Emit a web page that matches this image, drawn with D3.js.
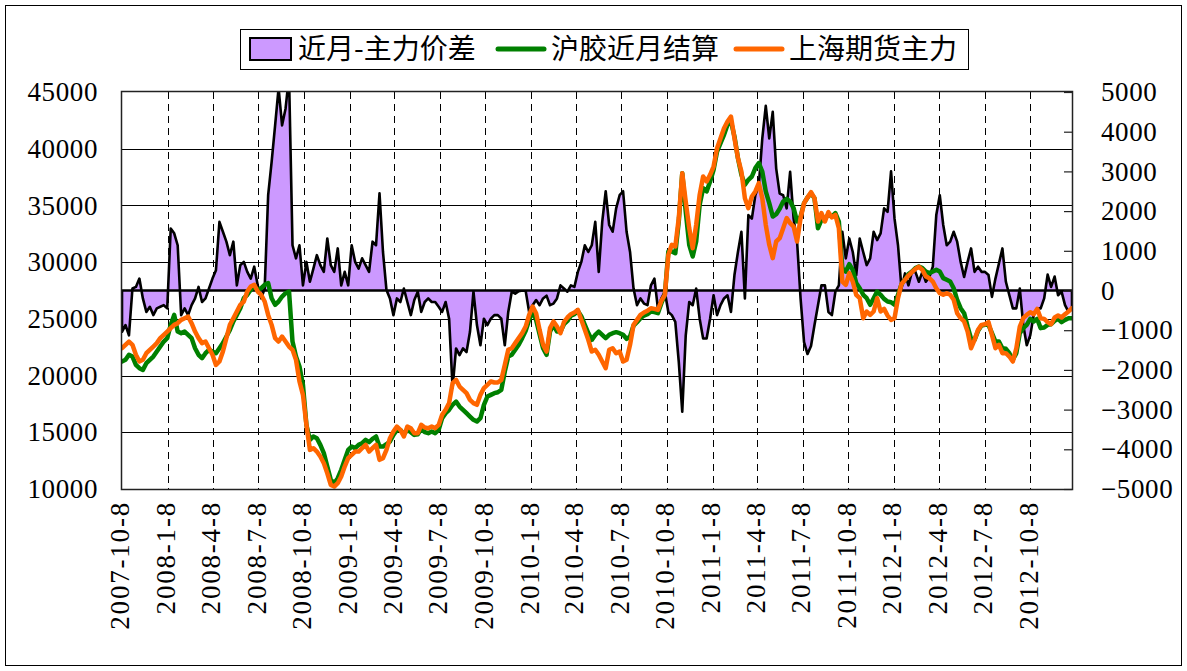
<!DOCTYPE html>
<html><head><meta charset="utf-8">
<script src="https://cdn.jsdelivr.net/npm/d3@7"></script>
<style>
html,body{margin:0;padding:0;background:#fff;}
svg{display:block;}
</style></head><body>
<svg id="chart" width="1187" height="671"></svg>
<script>
// ---------------- data ----------------
const startDate = "2007-10-08";   // first weekly observation
const stepDays = 7;               // one value per week
const dateTicks = ["2007-10-8","2008-1-8","2008-4-8","2008-7-8","2008-10-8","2009-1-8","2009-4-8","2009-7-8","2009-10-8","2010-1-8","2010-4-8","2010-7-8","2010-10-8","2011-1-8","2011-4-8","2011-7-8","2011-10-8","2012-1-8","2012-4-8","2012-7-8","2012-10-8"];
const endDate = "2012-12-31";
const leftTicks = [10000,15000,20000,25000,30000,35000,40000,45000];
const rightTicks = [-5000,-4000,-3000,-2000,-1000,0,1000,2000,3000,4000,5000];
const seriesNames = ["近月-主力价差","沪胶近月结算","上海期货主力"];

// 近月-主力价差 (right axis)
const spread = [
-1040,-870,-1130,50,90,300,-200,-540,-410,-620,
-450,-410,-370,-450,1560,1440,1140,-620,-450,-620,
-370,-200,90,-290,-200,50,300,510,1730,1480,
1230,890,1230,130,640,720,470,300,600,130,
-200,50,2400,3240,4160,5100,4160,4580,5400,1140,
810,1140,130,720,220,550,890,640,470,1310,
640,470,1060,130,470,130,1140,720,550,810,
640,470,1230,1140,2450,970,10,-200,-620,-200,
-290,50,-290,-620,-240,-30,-540,-290,-200,-290,
-290,-410,-540,-290,-710,-2450,-1460,-1630,-1460,-1550,
-1040,-30,-870,-1380,-710,-870,-710,-620,-620,-710,
-1380,-540,-30,-80,-20,0,-10,-540,-370,-240,
-370,-200,-130,-370,-330,-200,130,50,-30,130,
90,470,720,1140,970,1140,1730,470,1730,2500,
1650,1480,2070,2400,2500,1480,970,50,-370,-200,
-330,-370,130,300,-450,-200,-30,-540,-620,-790,
-1800,-3050,-1130,-290,-370,50,-710,-1210,-1210,-710,
-120,-620,-370,-200,-120,-540,390,970,1480,-200,
1900,1810,2400,2650,3830,4650,3830,4500,3070,2440,
2400,2070,2990,1810,1230,-200,-1300,-1600,-1400,-870,
-370,130,130,-540,-620,-30,130,1480,810,1310,
970,390,1310,970,640,810,1480,1270,1440,2070,
1980,3000,1810,1140,50,430,130,470,470,220,
470,220,340,600,1900,2400,1650,1140,1230,1480,
1230,720,340,720,1060,470,600,470,470,390,
-160,300,680,1060,220,-120,-450,-450,50,-870,
-1380,-1130,-620,-450,-450,-200,400,90,350,-120,
-30,-370,-540,-450];

// 沪胶近月结算 (left axis)
const nearMonth = [
21240,21390,21830,21680,20940,20650,20500,21090,21390,21680,
22120,22560,23000,23300,24470,25350,23880,23740,23880,23590,
23300,22410,21830,21530,21970,22270,22120,21970,22410,22860,
23440,24030,24770,25350,25940,26820,27120,27560,27850,27560,
27700,28000,28150,26820,26240,26530,26970,27260,27410,23000,
21680,20800,19180,15650,14330,14630,14480,13890,13160,11980,
10810,10510,10950,11690,12570,13450,13740,13600,13890,14040,
14330,14130,14420,14630,13740,13740,13950,14190,14770,15210,
15210,14830,15210,15010,14770,14830,15300,15010,14920,15070,
14920,15210,16240,16680,16980,17420,17710,17270,16980,16680,
16390,16100,15950,16240,17420,18150,18300,18450,18530,18740,
20360,21680,21830,22270,22710,23300,23940,24910,25650,24910,
23650,22410,21830,23880,24470,23880,23880,24530,24820,25270,
25410,25710,25210,24470,23740,23150,23590,23880,23590,23300,
23590,23740,23830,23740,23590,23240,23440,24410,24710,25060,
25290,25410,25650,25590,25500,26380,27120,30940,30940,30790,
33580,37840,34460,31530,30500,31820,35050,36520,36230,37110,
38140,39750,40490,41220,42110,42400,41080,39170,37700,36820,
37260,37550,38290,38730,37990,36230,35200,34020,34230,34700,
35350,35580,35350,34760,33580,34020,35200,35700,36080,35640,
32990,33730,33880,34170,34020,34320,33580,29470,29170,29820,
29320,28150,27700,27120,26820,26240,26820,27410,27120,26760,
26530,26470,26240,27120,28060,28440,28940,29170,29470,29610,
29470,29170,29030,29170,29320,29170,28590,28440,28290,27700,
26680,25940,25500,24320,23240,23150,23940,24410,24470,24470,
23740,23000,23000,22410,22360,21970,21390,21970,23740,24180,
24470,25000,24770,25000,24180,24240,24470,24530,24820,25000,
24710,24910,25060,25060];

// 上海期货主力 (left axis)
const mainContract = [
22410,22710,23000,22710,21830,21240,21390,21970,22270,22560,
22860,23300,23590,23880,24180,24470,24620,24910,25060,25210,
24620,23880,23300,22860,23000,22410,21830,20940,21240,22120,
23300,24470,25060,25650,26240,26530,27410,27850,28000,27410,
27120,26530,25350,24470,23300,23000,23440,23000,22560,22270,
21390,19480,18300,15650,13450,13600,13300,12860,12270,11390,
10360,10220,10510,11100,11980,12720,13010,13300,13300,13600,
13890,13300,13600,13890,12570,12720,13450,14480,15070,15510,
15210,14630,15510,15360,14920,14920,15650,15420,15360,15510,
15360,15650,16540,16980,17570,19330,19620,19030,18740,18450,
17860,17570,17420,18300,18890,19180,19480,19390,19390,19620,
20940,22270,22410,22860,23300,23740,24320,25350,26090,25500,
24030,22710,22120,24180,24770,24320,23740,24710,25120,25410,
25560,25790,24910,24030,23150,22120,22270,21830,21240,20650,
22270,22410,21970,22120,21240,21390,22710,24470,24910,25350,
25560,25710,25940,25880,25790,26590,27120,30640,31530,31380,
33880,37840,35350,32990,31230,33290,35930,37550,37110,37700,
38430,40050,40930,41810,42400,42840,40930,39170,37990,35640,
34760,35790,36230,36960,35640,33290,31530,30350,31820,32110,
32990,33880,33440,33140,31820,33880,35200,35700,36170,35640,
33580,34320,33580,34410,33940,34170,32990,28290,28000,29030,
28290,27120,26820,25060,25650,25350,25650,26820,25650,25880,
25290,24910,25060,26820,28060,28440,28820,29120,29410,29590,
29320,28730,28590,28290,27700,27260,27120,27260,27120,26680,
25500,25060,24770,23880,22410,23150,24030,24470,24530,24710,
23590,22410,22710,21970,21970,21680,21240,22410,24320,25060,
25350,25590,25410,25880,25060,25000,24710,24530,25120,25290,
25120,25410,25650,25940];

// ---------------- chart ----------------
const plot = {left: 122, right: 1072, top: 92, bottom: 489};
const parse = d3.timeParse("%Y-%m-%d");
const t0 = parse(startDate);
const dates = spread.map((_, i) => d3.timeDay.offset(t0, i * stepDays));
const tickDates = dateTicks.map(parse);

const x = d3.scaleTime().domain([t0, parse(endDate)]).range([plot.left, plot.right]);
const yL = d3.scaleLinear().domain([10000, 45000]).range([plot.bottom, plot.top]);
const yR = d3.scaleLinear().domain([-5000, 5000]).range([plot.bottom, plot.top]);

const svg = d3.select("#chart");
const axisFont = "'Liberation Serif','Times New Roman',serif";
const cjkFont = "'Noto Sans CJK SC','Noto Sans',sans-serif";

// outer frame
svg.append("rect").attr("x", 5.5).attr("y", 5.5).attr("width", 1176).attr("height", 660)
  .attr("fill", "#fff").attr("stroke", "#000").attr("stroke-width", 1);

svg.append("defs").append("clipPath").attr("id", "plotclip")
  .append("rect").attr("x", plot.left).attr("y", plot.top)
  .attr("width", plot.right - plot.left).attr("height", plot.bottom - plot.top);

// horizontal gridlines
const gGrid = svg.append("g");
gGrid.selectAll("line.h").data(leftTicks.filter(v => v > 10000 && v < 45000)).join("line")
  .attr("x1", plot.left).attr("x2", plot.right)
  .attr("y1", d => Math.round(yL(d)) + 0.5).attr("y2", d => Math.round(yL(d)) + 0.5)
  .attr("stroke", "#000").attr("stroke-width", 1);
// vertical dashed gridlines
gGrid.selectAll("line.v").data(tickDates.slice(1)).join("line")
  .attr("x1", d => Math.round(x(d)) + 0.5).attr("x2", d => Math.round(x(d)) + 0.5)
  .attr("y1", plot.top).attr("y2", plot.bottom)
  .attr("stroke", "#000").attr("stroke-width", 1).attr("stroke-dasharray", "7,5");

const gData = svg.append("g").attr("clip-path", "url(#plotclip)");

// spread area (right axis)
const spreadData = spread.map((v, i) => ({date: dates[i], v}));
gData.append("path").datum(spreadData)
  .attr("d", d3.area().x(d => x(d.date)).y0(yR(0)).y1(d => yR(d.v)))
  .attr("fill", "#CC99FF").attr("stroke", "#000").attr("stroke-width", 2.6)
  .attr("stroke-linejoin", "round");

// lines (left axis)
const lineGen = d3.line().x(d => x(d.date)).y(d => yL(d.v));
gData.append("path").datum(nearMonth.map((v, i) => ({date: dates[i], v})))
  .attr("d", lineGen).attr("fill", "none").attr("stroke", "#008000")
  .attr("stroke-width", 4.5).attr("stroke-linejoin", "round").attr("stroke-linecap", "round");
gData.append("path").datum(mainContract.map((v, i) => ({date: dates[i], v})))
  .attr("d", lineGen).attr("fill", "none").attr("stroke", "#FF6600")
  .attr("stroke-width", 4.5).attr("stroke-linejoin", "round").attr("stroke-linecap", "round");

// plot border
svg.append("rect").attr("x", plot.left - 0.5).attr("y", plot.top - 0.5)
  .attr("width", plot.right - plot.left + 1).attr("height", plot.bottom - plot.top + 1)
  .attr("fill", "none").attr("stroke", "#222").attr("stroke-width", 1.5);

// left axis labels
const axL = d3.axisLeft(yL).tickValues(leftTicks).tickSize(0).tickPadding(24).tickFormat(d3.format("d"));
const gL = svg.append("g").attr("transform", `translate(${plot.left},0)`).call(axL);
gL.select(".domain").remove();
gL.selectAll("text").attr("font-family", axisFont).attr("font-size", 27).attr("fill", "#000")
  .attr("letter-spacing", "0.6px");

// right axis (inward ticks)
const axR = d3.axisRight(yR).tickValues(rightTicks).tickSize(-8).tickPadding(29).tickFormat(d3.format("d"));
const gR = svg.append("g").attr("transform", `translate(${plot.right},0)`).call(axR);
gR.select(".domain").remove();
gR.selectAll("line").attr("stroke", "#222").attr("stroke-width", 1.2);
gR.selectAll("text").attr("font-family", axisFont).attr("font-size", 27).attr("fill", "#000")
  .attr("letter-spacing", "0.6px");

// bottom labels (rotated)
const axB = d3.axisBottom(x).tickValues(tickDates).tickSize(0).tickFormat((d, i) => dateTicks[i]);
const gB = svg.append("g").attr("transform", `translate(0,${plot.bottom})`).call(axB);
gB.select(".domain").remove();
gB.selectAll("text")
  .attr("font-family", axisFont).attr("font-size", 27).attr("fill", "#000")
  .attr("letter-spacing", "1.8px")
  .attr("text-anchor", "end").attr("dy", "0.33em").attr("y", 0)
  .attr("transform", "translate(-2,12) rotate(-90)");

// legend
const lg = svg.append("g");
lg.append("rect").attr("x", 240.5).attr("y", 29.5).attr("width", 728).attr("height", 40)
  .attr("fill", "#fff").attr("stroke", "#000").attr("stroke-width", 1);
lg.append("rect").attr("x", 250).attr("y", 38).attr("width", 41).attr("height", 22)
  .attr("fill", "#CC99FF").attr("stroke", "#000").attr("stroke-width", 2);
lg.append("line").attr("x1", 498).attr("x2", 544).attr("y1", 49).attr("y2", 49)
  .attr("stroke", "#008000").attr("stroke-width", 5).attr("stroke-linecap", "round");
lg.append("line").attr("x1", 736).attr("x2", 782).attr("y1", 49).attr("y2", 49)
  .attr("stroke", "#FF6600").attr("stroke-width", 5).attr("stroke-linecap", "round");
const legX = [298, 551, 789];
lg.selectAll("text").data(seriesNames).join("text")
  .attr("x", (d, i) => legX[i]).attr("y", 49).attr("dy", "0.36em")
  .attr("font-family", cjkFont).attr("font-size", 28).attr("fill", "#000")
  .text(d => d);
</script>
</body></html>
